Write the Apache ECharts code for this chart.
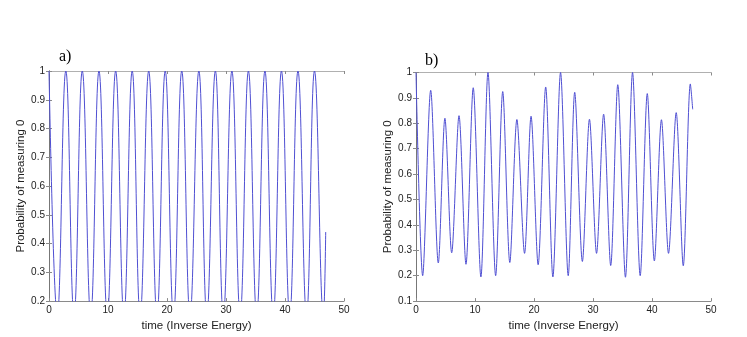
<!DOCTYPE html>
<html>
<head>
<meta charset="UTF-8">
<title>probability of measuring 0</title>
<script src="https://cdn.jsdelivr.net/npm/echarts@6/dist/echarts.min.js"></script>
<style>
  html, body { margin: 0; padding: 0; background: #fff; }
  #main { width: 747px; height: 337px; }
</style>
</head>
<body>
<div id="main"></div>
<script>
// panel a) : peaks and troughs (troughs dip just under the 0.2 floor)
var timeA = [0, 1.41, 2.85, 4.24, 5.64, 7.07, 8.47, 9.88, 11.3, 12.7, 14.1, 15.45, 16.9, 18.3,
             19.7, 21.1, 22.5, 23.9, 25.4, 26.75, 28.2, 29.55, 31.0, 32.4, 33.8, 35.2, 36.6,
             38.0, 39.4, 40.8, 42.2, 43.65, 45.0, 46.5, 46.9];
var probA = [1, 0.15, 1, 0.15, 1, 0.15, 1, 0.15, 1, 0.15, 1, 0.15, 1, 0.15,
             1, 0.15, 1, 0.15, 1, 0.15, 1, 0.15, 1, 0.15, 1, 0.15, 1,
             0.15, 1, 0.15, 1, 0.15, 1, 0.15, 0.44];

// panel b)
var timeB = [0, 1.13, 2.49, 3.78, 4.9, 6.05, 7.29, 8.47, 9.7, 11.0, 12.2, 13.5, 14.7, 15.9,
             17.1, 18.4, 19.5, 20.7, 21.98, 23.2, 24.5, 25.8, 26.9, 28.2, 29.4, 30.6, 31.8,
             33.0, 34.2, 35.5, 36.7, 38.0, 39.2, 40.4, 41.6, 42.8, 44.1, 45.3, 46.5, 46.9];
var probB = [1, 0.2, 0.93, 0.25, 0.82, 0.29, 0.83, 0.245, 0.94, 0.195, 1.0, 0.2, 0.925, 0.252,
             0.815, 0.288, 0.828, 0.243, 0.943, 0.195, 1.0, 0.2, 0.922, 0.256, 0.816, 0.288, 0.836,
             0.24, 0.952, 0.194, 1.0, 0.2, 0.917, 0.258, 0.814, 0.288, 0.842, 0.239, 0.955, 0.855];

var xTicks = [0, 10, 20, 30, 40, 50];
var yTicksA = [0.2, 0.3, 0.4, 0.5, 0.6, 0.7, 0.8, 0.9, 1];
var yTicksB = [0.1, 0.2, 0.3, 0.4, 0.5, 0.6, 0.7, 0.8, 0.9, 1];

var axisGray = '#8a8a8a';
var textColor = '#222';
var lineColor = '#4f4fd2';
var sans = 'Liberation Sans';

function pairs(xs, ys) {
    var out = [];
    for (var i = 0; i < xs.length; i++) out.push([xs[i], ys[i]]);
    return out;
}

function labelFmt(v) {
    return String(Math.round(v * 10) / 10);
}

// main axes (labels) + mirrored axes (ticks only) like the matlab box
function xAxes(gi, ticks, nameGap) {
    var step = ticks[1] - ticks[0];
    return [{
        gridIndex: gi, type: 'value', min: ticks[0], max: ticks[ticks.length - 1], interval: step, position: 'bottom',
        name: 'time (Inverse Energy)', nameLocation: 'middle', nameGap: nameGap,
        nameTextStyle: { color: textColor, fontSize: 11.5, fontFamily: sans },
        axisLine: { lineStyle: { color: axisGray } },
        axisTick: { inside: true, length: 3, lineStyle: { color: axisGray } },
        axisLabel: { color: textColor, fontSize: 10, margin: 4, fontFamily: sans },
        splitLine: { show: false }
    }, {
        gridIndex: gi, type: 'value', min: ticks[0], max: ticks[ticks.length - 1], interval: step, position: 'top',
        axisLine: { lineStyle: { color: '#b0b0b0' } },
        axisTick: { inside: true, length: 3, lineStyle: { color: axisGray } },
        axisLabel: { show: false }, splitLine: { show: false }
    }];
}

function yAxes(gi, ticks, nameGap) {
    var lo = ticks[0], hi = ticks[ticks.length - 1];
    return [{
        gridIndex: gi, type: 'value', min: lo, max: hi, interval: 0.1, position: 'left',
        name: 'Probability of measuring 0', nameLocation: 'middle', nameGap: nameGap,
        nameTextStyle: { color: textColor, fontSize: 11.5, fontFamily: sans },
        axisLine: { show: true, lineStyle: { color: '#666' } },
        axisTick: { show: true, inside: true, length: 3, lineStyle: { color: axisGray } },
        axisLabel: { color: textColor, fontSize: 10, margin: 4, fontFamily: sans, formatter: labelFmt },
        splitLine: { show: false }
    }, {
        gridIndex: gi, type: 'value', min: lo, max: hi, interval: 0.1, position: 'right',
        axisLine: { show: true, lineStyle: { color: '#777' } },
        axisTick: { show: true, inside: true, length: 3, lineStyle: { color: axisGray } },
        axisLabel: { show: false }, splitLine: { show: false }
    }];
}

var myChart = echarts.init(document.getElementById('main'));
var option = {
    backgroundColor: '#fff',
    animation: false,
    title: [
        { text: 'a)', left: 54, top: 44, textStyle: { fontFamily: 'Liberation Serif', fontSize: 16, fontWeight: 'normal', color: '#000' } },
        { text: 'b)', left: 420, top: 48, textStyle: { fontFamily: 'Liberation Serif', fontSize: 16, fontWeight: 'normal', color: '#000' } }
    ],
    grid: [
        { left: 49, top: 71, width: 295, height: 232 },
        { left: 416, top: 72.5, width: 295, height: 232.5 }
    ],
    xAxis: xAxes(0, xTicks, 15).concat(xAxes(1, xTicks, 14)),
    yAxis: yAxes(0, yTicksA, 21).concat(yAxes(1, yTicksB, 20)),
    series: [{
        type: 'line', xAxisIndex: 0, yAxisIndex: 0, data: pairs(timeA, probA),
        smooth: 0.45, showSymbol: false, clip: true,
        lineStyle: { color: lineColor, width: 1 }
    }, {
        type: 'line', xAxisIndex: 2, yAxisIndex: 2, data: pairs(timeB, probB),
        smooth: 0.3, showSymbol: false, clip: true,
        lineStyle: { color: lineColor, width: 1 }
    }]
};
myChart.setOption(option);
</script>
</body>
</html>
